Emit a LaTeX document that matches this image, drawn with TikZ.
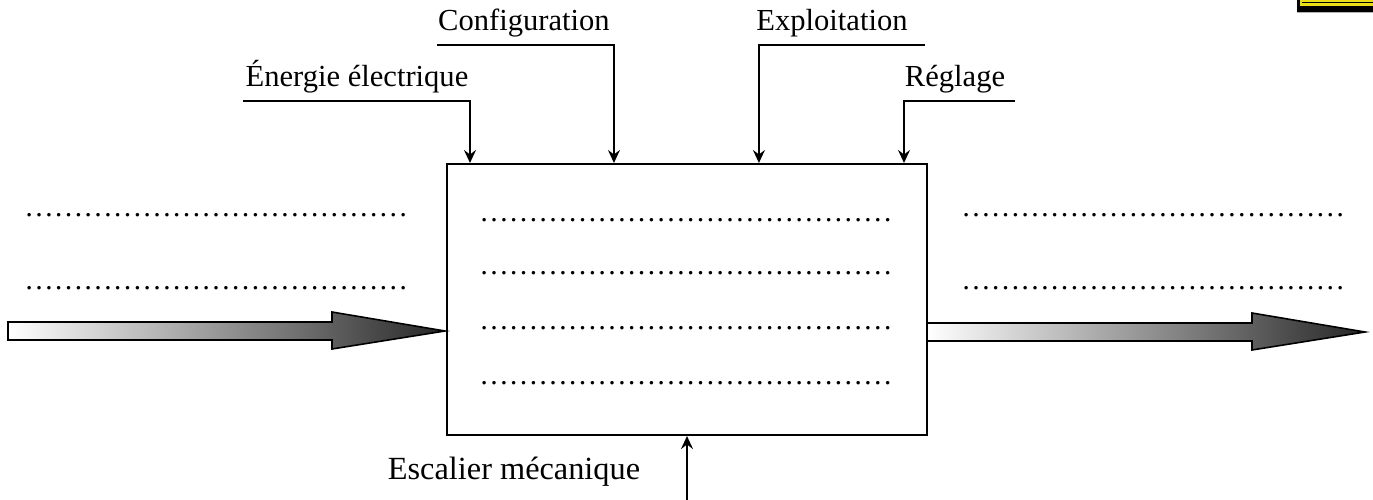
\documentclass[tikz,border=0pt]{standalone}
\usepackage{fontspec}
\setmainfont{Liberation Serif}
\usetikzlibrary{arrows,arrows.meta,positioning}

\begin{document}
\begin{tikzpicture}[x=0.02cm,y=-0.02cm]
  \tikzstyle{label} = [inner sep=0pt, anchor=base, font=\fontsize{17.4}{20}\selectfont]
  \tikzstyle{dots} = [inner sep=0pt, anchor=base west, font=\fontsize{16.8}{20}\selectfont]
  \tikzstyle{block} = [draw=black, line width=1.2pt, minimum width=9.6cm, minimum height=5.42cm]
  \tikzstyle{arrow} = [line width=1pt, -{Stealth[length=2.6mm,width=2.4mm,inset=0.9mm]}]
  \tikzstyle{flow} = [draw=black, line width=0.9pt, shading=axis, left color=white, right color=black!85]

  \useasboundingbox (0,0) rectangle (1373,500);

  \node (proc) [block] at (687,299.5) {};

  % labels
  \node (energie) [label] at (357,87) {Énergie électrique};
  \node (config) [label] at (524,31) {Configuration};
  \node (exploit) [label] at (832,31) {Exploitation};
  \node (reglage) [label] at (955,87) {Réglage};
  \node (escalier) [label, font=\fontsize{18.4}{20}\selectfont] at (514,479) {Escalier mécanique};

  \coordinate (eIn) at (243,101);
  \coordinate (cIn) at (437,45);
  \coordinate (xIn) at (925,45);
  \coordinate (rIn) at (1015,101);
  \coordinate (mIn) at (687,500);

  \draw [arrow] (eIn) -| ([xshift=0.48cm]proc.north west);
  \draw [arrow] (cIn) -| ([xshift=3.36cm]proc.north west);
  \draw [arrow] (xIn) -| ([xshift=6.26cm]proc.north west);
  \draw [arrow] (rIn) -| ([xshift=-0.48cm]proc.north east);
  \draw [arrow] (mIn) -- (proc.south);

  % dotted lines
  \node (dl1) [dots] at (24,216) {…………………………………};
  \node (dl2) [dots] at (24,289) {…………………………………};
  \node (db1) [dots] at (479,221) {……………………………………};
  \node (db2) [dots] at (479,274) {……………………………………};
  \node (db3) [dots] at (479,329) {……………………………………};
  \node (db4) [dots] at (479,384) {……………………………………};
  \node (dr1) [dots] at (961,216) {…………………………………};
  \node (dr2) [dots] at (961,289) {…………………………………};

  % big arrows in and out
  \path [flow] (8,322) -- (332,322) -- (332,312) -- (445,331) -- (332,349)
    -- (332,340) -- (8,340) -- cycle;
  \path [flow] (927,323) -- (1252,323) -- (1252,313) -- (1365,332) -- (1252,350)
    -- (1252,341) -- (927,341) -- cycle;

  % corner of the next frame
  \fill [black] (1297,0) rectangle (1373,12);
  \draw [yellow!90!black, line width=0.8pt] (1373,1.2) -- (1300,1.2);
  \draw [yellow!90!black, line width=1.2pt] (1373,4.5) -- (1301,4.5) -- (1301,1.2);
  \draw [gray!60, line width=0.5pt] (1297,12.5) -- (1373,12.5);
\end{tikzpicture}
\end{document}
